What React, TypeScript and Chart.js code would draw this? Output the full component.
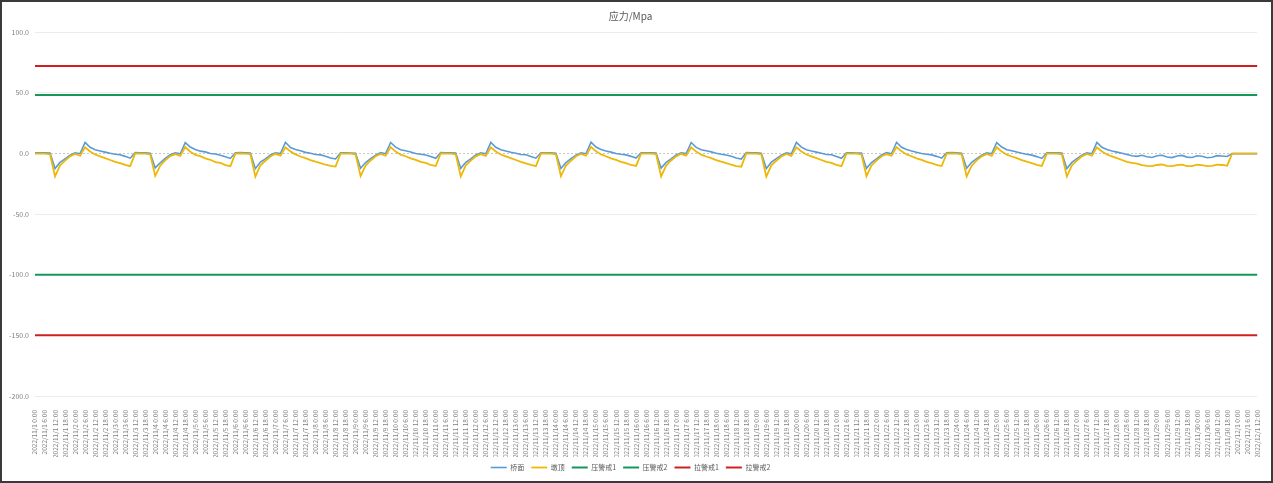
import React, { useEffect, useRef } from 'react';
import { Chart, registerables } from 'chart.js';

Chart.register(...registerables);

// 3-hourly readings from 2022/11/1 0:00 to 2022/12/1 12:00
const startTime = new Date(2022, 10, 1, 0, 0);
const stepHours = 3;
const pointCount = 245;

const timeLabels: string[] = [];
for (let i = 0; i < pointCount; i++) {
  const d = new Date(startTime.getTime() + i * stepHours * 3600 * 1000);
  timeLabels.push(
    `${d.getFullYear()}/${d.getMonth() + 1}/${d.getDate()} ${d.getHours()}:${String(d.getMinutes()).padStart(2, '0')}`
  );
}

const topStress = [
  0.5, 0.5, 0.4, 0.2, -12.5, -7.5, -4.5, -1.5, 0.5, -0.3, 9.0, 5.0, 3.0, 2.0, 1.0, 0.0, -0.8, -1.2, -2.5, -4.0,
  0.6, 0.5, 0.5, 0.1, -12.0, -7.8, -4.2, -1.2, 0.4, -0.4, 8.8, 5.2, 3.2, 1.8, 1.2, -0.2, -0.6, -1.5, -2.8, -4.2,
  0.5, 0.6, 0.4, 0.2, -12.6, -7.2, -4.6, -1.4, 0.5, -0.2, 9.1, 4.8, 3.1, 2.2, 0.8, 0.1, -1.0, -1.3, -2.4, -3.8, -4.6,
  0.5, 0.5, 0.3, 0.1, -12.3, -7.6, -4.4, -1.6, 0.6, -0.3, 8.9, 5.1, 2.9, 2.1, 1.1, -0.1, -0.7, -1.4, -2.6, -4.1,
  0.6, 0.5, 0.4, 0.2, -12.4, -7.4, -4.5, -1.3, 0.5, -0.4, 9.0, 5.0, 3.0, 1.9, 0.9, 0.0, -0.9, -1.1, -2.7, -4.0,
  0.5, 0.4, 0.4, 0.1, -12.5, -7.7, -4.3, -1.5, 0.4, -0.3, 9.2, 5.2, 3.1, 2.0, 1.0, -0.1, -0.8, -1.3, -2.5, -3.9,
  0.5, 0.5, 0.5, 0.2, -12.2, -7.5, -4.6, -1.4, 0.5, -0.2, 8.9, 4.9, 3.0, 2.1, 1.2, 0.0, -0.7, -1.4, -2.4, -3.9, -4.7,
  0.6, 0.5, 0.4, 0.1, -12.6, -7.3, -4.4, -1.5, 0.5, -0.4, 9.0, 5.1, 2.9, 1.9, 1.0, 0.1, -0.9, -1.2, -2.6, -4.1,
  0.5, 0.5, 0.3, 0.2, -12.4, -7.6, -4.5, -1.4, 0.6, -0.3, 9.1, 5.0, 3.1, 2.0, 0.9, -0.1, -0.8, -1.3, -2.5, -4.0,
  0.5, 0.6, 0.4, 0.1, -12.3, -7.4, -4.3, -1.6, 0.4, -0.3, 8.9, 5.2, 3.0, 2.1, 1.1, 0.0, -0.7, -1.5, -2.7, -4.2,
  0.5, 0.5, 0.4, 0.2, -12.5, -7.5, -4.4, -1.5, 0.5, -0.3, 9.0,
  5.0, 3.2, 2.0, 1.0, 0.0, -1.0, -2.0, -2.5, -1.6, -2.8, -3.4, -2.0, -1.6, -3.0, -3.5, -2.2, -1.7, -3.1, -3.4,
  -2.0, -2.4, -3.6, -3.2, -1.9, -2.2, -2.6,
  -0.2, -0.2, -0.2, -0.2, -0.2, -0.2,
];

const bottomStress = [
  -0.2, -0.2, -0.3, -0.8, -19.0, -10.0, -6.0, -2.5, -0.5, -2.0, 5.0, 1.5, -1.0, -2.5, -4.0, -5.5, -7.0, -8.0, -9.5, -10.5,
  -0.1, -0.2, -0.2, -0.9, -18.6, -10.2, -5.8, -2.3, -0.6, -2.1, 5.2, 1.3, -1.2, -2.3, -4.2, -5.3, -7.2, -7.8, -9.7, -10.6,
  -0.2, -0.1, -0.3, -0.7, -19.2, -9.8, -6.1, -2.6, -0.4, -1.9, 4.9, 1.6, -0.9, -2.6, -3.9, -5.6, -6.9, -8.1, -9.4, -10.4, -10.9,
  -0.2, -0.2, -0.3, -0.8, -18.8, -10.1, -5.9, -2.4, -0.5, -2.0, 5.1, 1.4, -1.1, -2.4, -4.1, -5.4, -7.1, -7.9, -9.6, -10.5,
  -0.1, -0.2, -0.3, -0.9, -19.1, -9.9, -6.0, -2.5, -0.6, -2.2, 5.0, 1.5, -1.0, -2.5, -4.0, -5.5, -7.0, -8.2, -9.5, -10.6,
  -0.2, -0.1, -0.2, -0.8, -18.9, -10.0, -6.2, -2.4, -0.5, -2.0, 5.3, 1.6, -0.9, -2.4, -4.1, -5.4, -7.1, -8.0, -9.6, -10.4,
  -0.2, -0.2, -0.3, -0.7, -19.0, -10.1, -5.9, -2.5, -0.4, -1.9, 4.9, 1.4, -1.1, -2.6, -3.9, -5.6, -6.9, -8.1, -9.4, -10.5, -11.0,
  -0.1, -0.2, -0.3, -0.8, -19.2, -9.9, -6.1, -2.6, -0.5, -2.1, 5.0, 1.5, -1.0, -2.5, -4.0, -5.5, -7.0, -7.9, -9.5, -10.6,
  -0.2, -0.2, -0.2, -0.9, -18.8, -10.0, -6.0, -2.4, -0.6, -2.0, 5.1, 1.6, -0.9, -2.4, -4.1, -5.4, -7.1, -8.0, -9.6, -10.5,
  -0.2, -0.1, -0.3, -0.8, -19.0, -10.2, -5.8, -2.5, -0.5, -2.1, 5.0, 1.4, -1.1, -2.6, -3.9, -5.6, -6.9, -8.1, -9.5, -10.4,
  -0.2, -0.2, -0.3, -0.8, -19.1, -10.0, -6.0, -2.5, -0.5, -2.0, 5.0,
  1.5, -1.0, -2.5, -4.0, -5.5, -7.0, -7.8, -8.5, -9.8, -10.4, -10.5, -9.6, -9.2, -10.4, -10.6, -9.8, -9.3, -10.5, -10.6,
  -9.4, -9.8, -10.5, -10.4, -9.3, -9.6, -10.2,
  -0.2, -0.2, -0.2, -0.2, -0.2, -0.2,
];

// warning levels (MPa)
const compressWarn1 = 48;
const compressWarn2 = -100;
const tensionWarn1 = 72;
const tensionWarn2 = -150;

const seriesNames = ['桥面', '墩顶', '压警戒1', '压警戒2', '拉警戒1', '拉警戒2'];

const yTicks = { min: -200, max: 100, step: 50 };

const fontFamily = "'Noto Sans CJK SC', 'Noto Sans', sans-serif";

const App: React.FC = () => {
  const canvasRef = useRef<HTMLCanvasElement>(null);
  const chartRef = useRef<Chart | null>(null);

  useEffect(() => {
    if (!canvasRef.current) return;
    if (chartRef.current) chartRef.current.destroy();

    const flat = (v: number) => timeLabels.map(() => v);

    chartRef.current = new Chart(canvasRef.current, {
      type: 'line',
      data: {
        labels: timeLabels,
        datasets: [
          { label: seriesNames[0], data: topStress, borderColor: '#5B9BD5', backgroundColor: '#5B9BD5', borderWidth: 1.6, order: 2 },
          { label: seriesNames[1], data: bottomStress, borderColor: '#EDB808', backgroundColor: '#EDB808', borderWidth: 1.8, order: 1 },
          { label: seriesNames[2], data: flat(compressWarn1), borderColor: '#14985A', backgroundColor: '#14985A', borderWidth: 2, order: 3 },
          { label: seriesNames[3], data: flat(compressWarn2), borderColor: '#14985A', backgroundColor: '#14985A', borderWidth: 2, order: 4 },
          { label: seriesNames[4], data: flat(tensionWarn1), borderColor: '#D01F22', backgroundColor: '#D01F22', borderWidth: 2, order: 5 },
          { label: seriesNames[5], data: flat(tensionWarn2), borderColor: '#D01F22', backgroundColor: '#D01F22', borderWidth: 2, order: 6 },
        ],
      },
      options: {
        responsive: true,
        maintainAspectRatio: false,
        animation: false,
        elements: { point: { radius: 0 }, line: { tension: 0 } },
        layout: { padding: { left: 0, right: 12, top: 0, bottom: 0 } },
        plugins: {
          title: {
            display: true,
            text: '应力/Mpa',
            color: '#595959',
            font: { family: fontFamily, size: 10, weight: 'normal' },
            padding: { top: 8, bottom: 10 },
          },
          legend: {
            position: 'bottom',
            labels: {
              usePointStyle: true,
              pointStyle: 'line',
              pointStyleWidth: 16,
              color: '#595959',
              font: { family: fontFamily, size: 7 },
              padding: 7,
              sort: (a, b) => (a.datasetIndex ?? 0) - (b.datasetIndex ?? 0),
            },
          },
          tooltip: { enabled: false },
        },
        scales: {
          x: {
            grid: { display: false },
            border: { display: false },
            afterFit: (scale) => {
              scale.height = 61;
            },
            ticks: {
              autoSkip: false,
              minRotation: 90,
              maxRotation: 90,
              padding: 6,
              color: '#808080',
              font: { family: fontFamily, size: 6.5 },
              callback: function (value, index) {
                return index % 2 === 0 ? this.getLabelForValue(value as number) : null;
              },
            },
          },
          y: {
            min: yTicks.min,
            max: yTicks.max,
            afterFit: (scale) => {
              scale.width = 33;
            },
            grid: {
              color: (ctx) => (ctx.tick && ctx.tick.value === 0 ? '#c8c8c8' : '#ececec'),
              drawTicks: false,
            },
            border: {
              display: false,
              dash: (ctx) => (ctx.tick && ctx.tick.value === 0 ? [2, 2] : []),
            },
            ticks: {
              stepSize: yTicks.step,
              padding: 6,
              color: '#808080',
              font: { family: fontFamily, size: 7 },
              callback: (value) => Number(value).toFixed(1),
            },
          },
        },
      },
    });

    return () => {
      if (chartRef.current) {
        chartRef.current.destroy();
        chartRef.current = null;
      }
    };
  }, []);

  return (
    <div
      style={{
        position: 'fixed',
        left: 0,
        top: 0,
        width: 1273,
        height: 483,
        boxSizing: 'border-box',
        border: '2px solid #3a3a3a',
        background: '#fff',
      }}
    >
      <canvas ref={canvasRef}></canvas>
    </div>
  );
};

export default App;
